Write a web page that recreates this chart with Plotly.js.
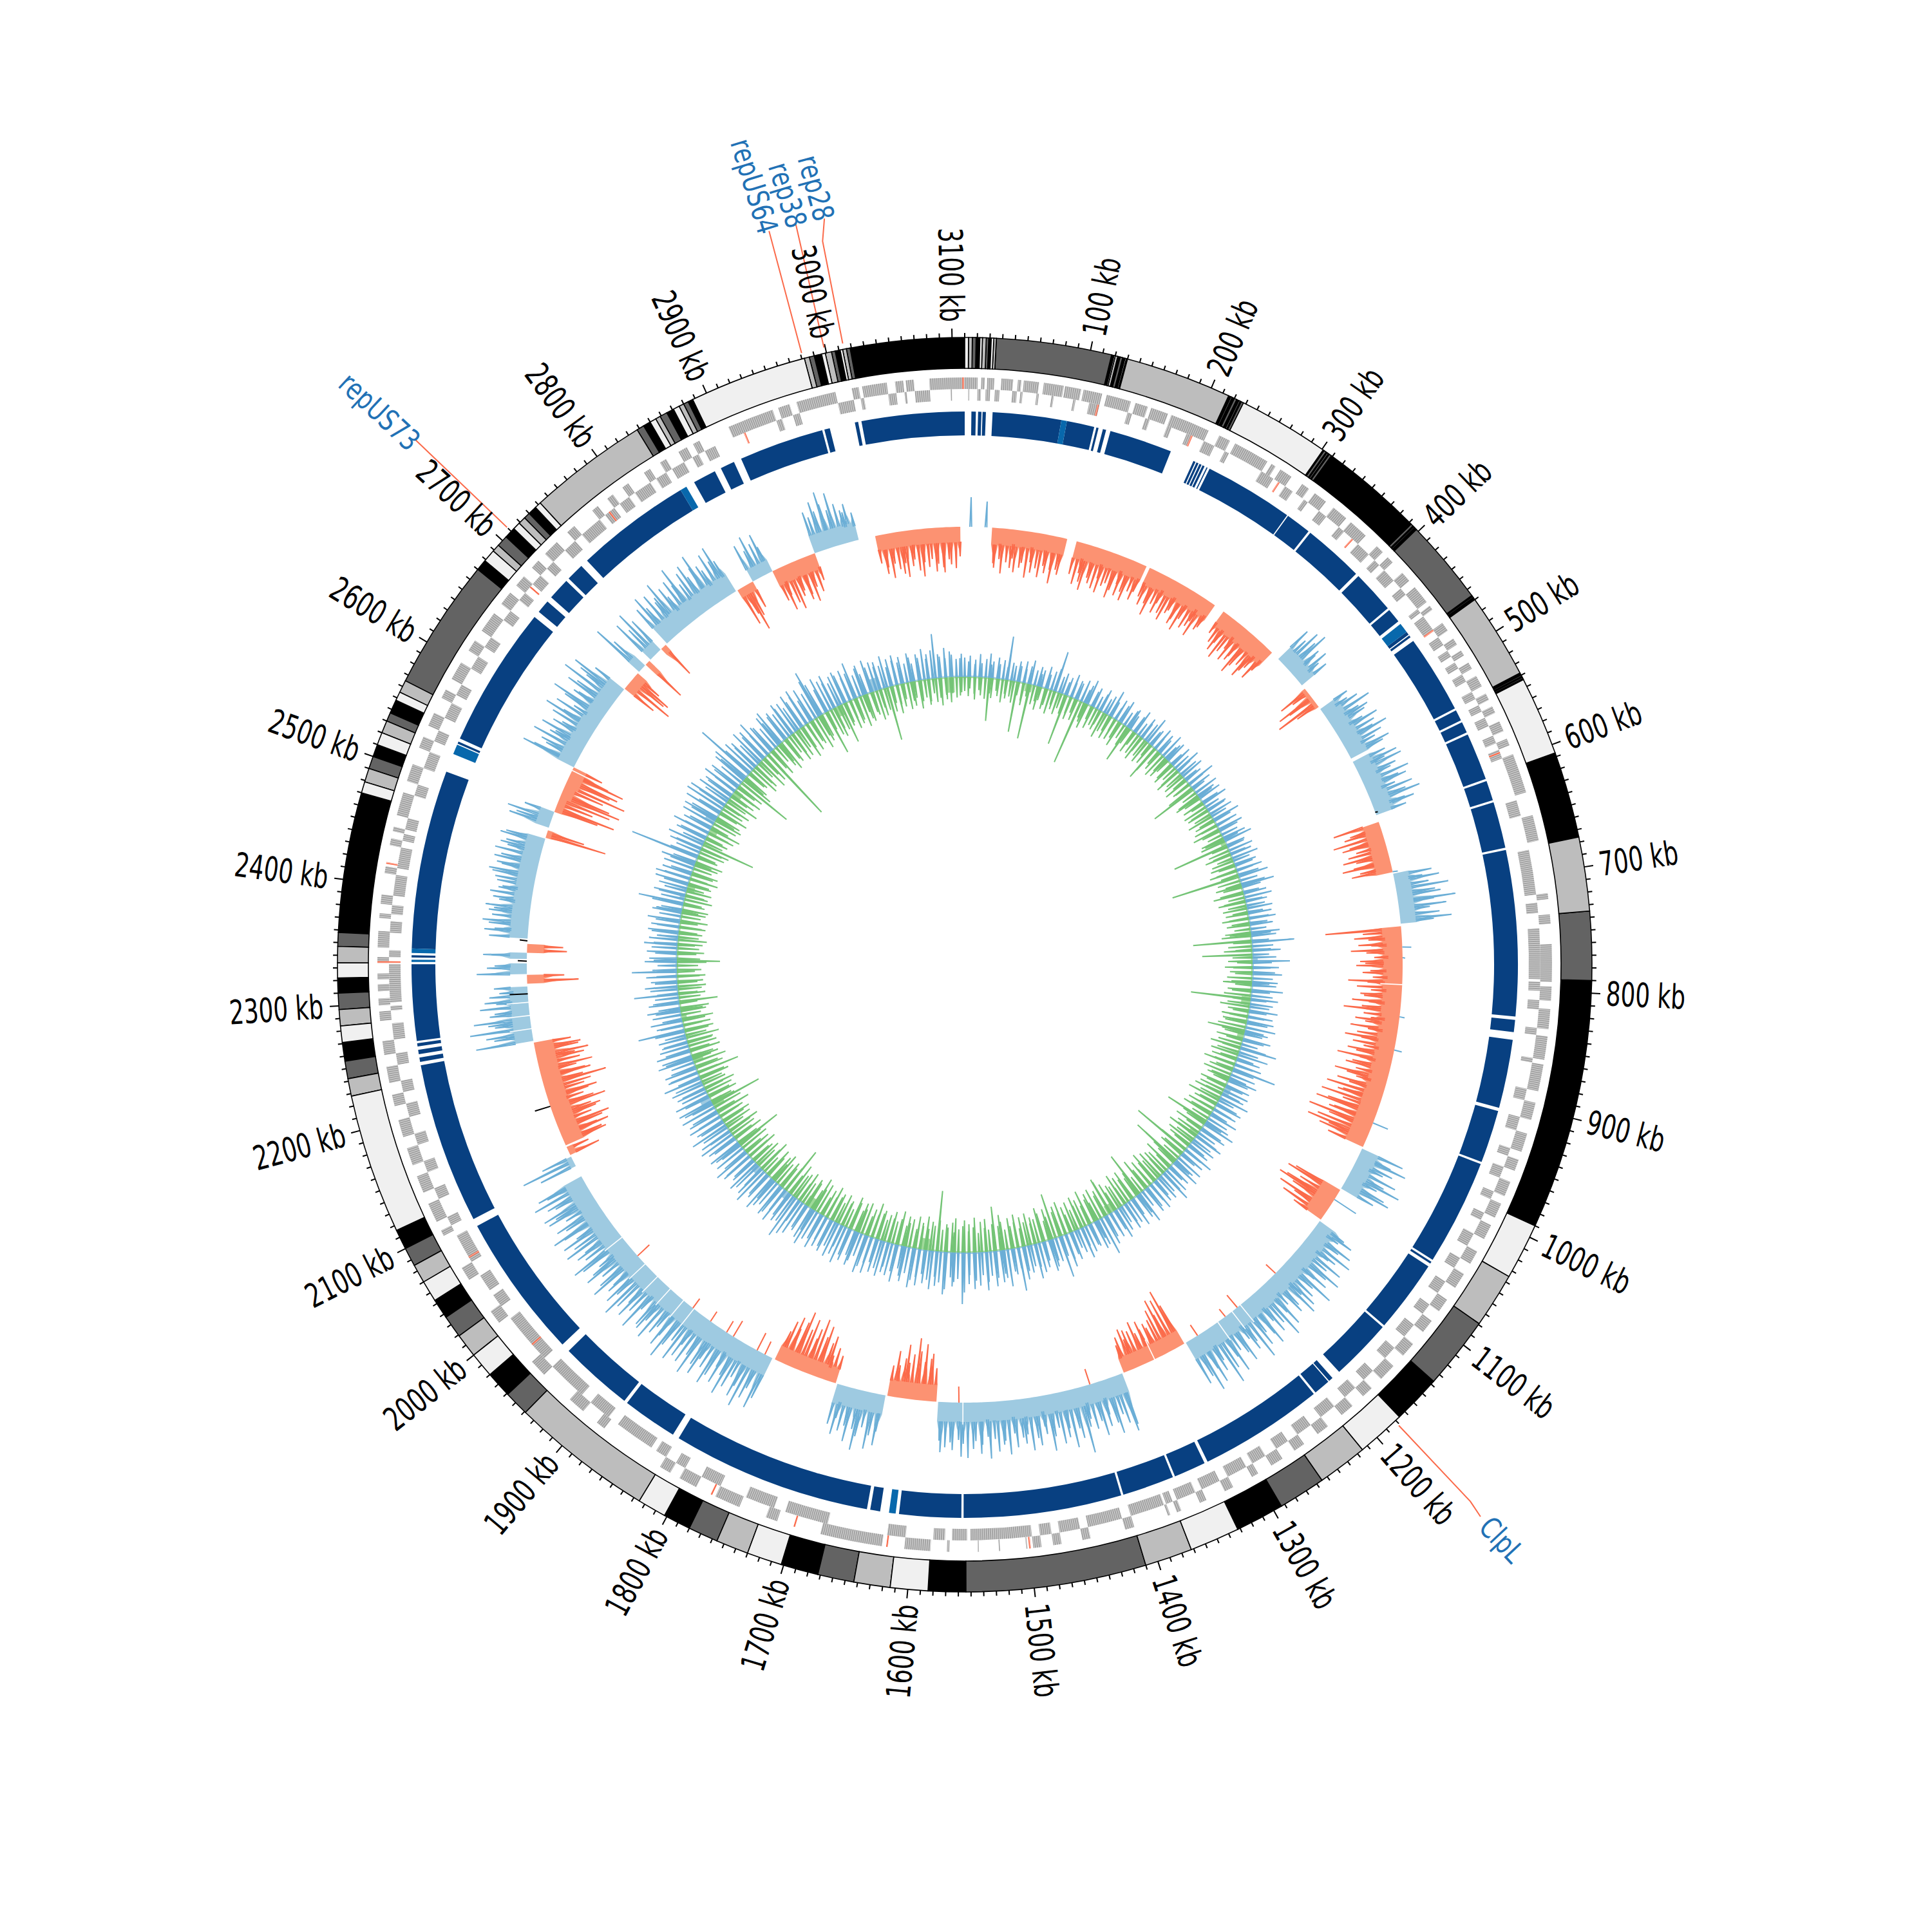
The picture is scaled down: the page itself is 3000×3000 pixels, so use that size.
<!DOCTYPE html>
<html><head><meta charset="utf-8">
<script src="https://cdn.plot.ly/plotly-3.0.1.min.js"></script>
<style>html,body{margin:0;padding:0;background:#fff}</style></head>
<body><div id="chart" style="width:3000px;height:3000px"></div>
<script>
const genomeKb = 3110;
// karyotype band: start of each band (kb) and its shade
const shades = ['#000000','#636363','#bdbdbd','#f0f0f0'];
const bandStart = [0,3,6,9,12,14,17,19,21,23,25,117,119,120,122,124,126,128,129,130,215,217,218,220,222,224,225,226,228,301,302,304,305,306,307,309,392,394,395,396,398,466,467,468,470,538,540,541,542,543,544,607,676,735,790,990,1035,1079,1137,1176,1215,1255,1293,1332,1372,1410,1554,1584,1614,1643,1672,1702,1730,1756,1780,1802,1825,1939,1959,1980,2000,2019,2037,2053,2070,2085,2100,2116,2228,2242,2256,2271,2284,2297,2310,2322,2334,2347,2358,2470,2479,2490,2500,2510,2520,2530,2537,2548,2555,2565,2670,2679,2689,2695,2704,2713,2719,2725,2730,2737,2742,2838,2844,2850,2855,2859,2865,2871,2876,2880,2884,2888,2982,2986,2990,2996,2999,3004,3007,3011,3013,3016,3019];
const bandShade = [3,2,1,0,3,2,1,0,3,2,1,0,3,2,0,1,0,3,0,2,0,3,0,1,0,3,0,1,3,0,1,0,3,0,1,0,1,0,1,0,1,0,1,0,2,0,1,0,1,0,3,0,2,1,0,3,2,1,0,3,2,1,0,3,2,1,0,3,2,1,0,3,2,1,0,3,2,1,0,3,2,1,0,3,2,1,0,3,2,1,0,3,2,1,0,3,2,1,0,3,2,1,0,3,2,1,0,3,2,1,0,3,2,1,0,3,2,1,0,3,2,1,0,3,2,1,0,3,2,1,0,3,2,1,0,3,2,1,0,3,2,1,0];
// gene lanes as start,end pairs (kb)
const laneOuter = [3080,3110,0,11,14,17,19,25,31,41,45,48,50,63,67,84,85,99,101,117,121,142,146,157,160,175,178,212,222,232,237,268,272,276,281,292,303,310,316,328,336,350,355,372,385,392,398,404,416,425,432,448,452,456,470,478,486,492,498,503,510,516,523,533,540,546,552,558,566,575,582,588,596,630,650,672,717,722,735,743,760,792,796,808,815,832,838,858,862,885,895,910,922,938,945,955,965,978,985,998,1005,1018,1030,1042,1052,1066,1078,1090,1100,1112,1125,1138,1150,1165,1176,1186,1198,1210,1225,1236,1250,1260,1272,1283,1296,1302,1320,1328,1345,1351,1368,1372,1378,1380,1410,1418,1448,1455,1473,1480,1490,1497,1502,1503,1525,1526,1543,1544,1568,1570,1584,1606,1625,1678,1716,1726,1750,1772,1790,1806,1815,1825,1882,1890,1905,1920,1950,1965,2008,2020,2052,2064,2095,2100,2108,2125,2135,2150,2160,2175,2185,2200,2212,2222,2232,2246,2256,2268,2285,2293,2298,2304,2310,2316,2320,2325,2334,2339,2347,2361,2372,2376,2384,2392,2410,2416,2434,2440,2446,2450,2460,2480,2490,2505,2520,2530,2540,2552,2566,2574,2584,2600,2612,2622,2632,2650,2660,2672,2680,2690,2700,2708,2716,2730,2742,2750,2770,2776,2786,2792,2802,2808,2824,2830,2840,2846,2858,2866,2872,2878,2905,2945,2950,2960,2966,3000,3014,3020,3023,3044,3051,3058,3060,3067];
const laneInner = [3098,3099,3,4,11,14,18,22,26,30,41,45,48,50,62,64,75,77,94,96,108,117,142,146,158,162,178,182,196,200,212,222,232,236,268,280,292,300,312,316,328,336,350,356,372,385,392,398,404,416,425,432,448,452,456,470,478,486,492,498,504,510,516,523,533,540,546,552,558,566,575,582,588,596,634,648,678,717,724,733,746,790,792,800,808,816,832,838,858,862,885,895,910,922,938,945,955,965,978,985,998,1005,1018,1030,1042,1052,1066,1078,1090,1100,1112,1125,1138,1150,1165,1176,1186,1198,1210,1225,1236,1250,1260,1272,1283,1296,1302,1320,1328,1345,1351,1368,1372,1378,1380,1410,1418,1448,1455,1473,1480,1490,1497,1550,1553,1566,1572,1582,1606,1622,1674,1712,1722,1748,1772,1790,1806,1815,1825,1835,1840,1875,1885,1905,1915,1950,1960,2005,2018,2030,2035,2050,2064,2090,2100,2108,2125,2135,2150,2160,2175,2185,2200,2212,2222,2232,2246,2256,2268,2282,2293,2297,2300,2333,2339,2345,2360,2370,2376,2384,2392,2410,2416,2434,2440,2446,2450,2460,2480,2490,2505,2520,2530,2540,2552,2566,2574,2584,2600,2612,2622,2632,2650,2660,2672,2680,2690,2700,2708,2716,2730,2742,2750,2770,2776,2786,2792,2802,2808,2824,2830,2840,2846,2858,2866,2872,2878,2888,2945,2950,2960,2966,3000,3014,3020,3023,3044,3051,3058,3060,3067,3080];
const redGeneOuter = [3108,1499,1620,1700,1775,2334,2418];
const redGeneInner = [115,200,285,365,470,590,1975,2068,2334,2686,2780,2915];
// blue ring as start,end pairs (kb)
const ringDark = [25,87,92,117,119,121,125,128,132,189,211,213,214,216,217,219,220,222,224,225,227,308,309,332,334,389,392,431,433,446,458,461,462,464,468,539,541,551,553,563,565,608,610,628,630,672,674,824,827,838,845,907,910,958,960,1056,1058,1060,1063,1129,1131,1187,1195,1199,1200,1215,1217,1330,1333,1362,1364,1411,1413,1556,1558,1614,1631,1640,1643,1824,1830,1880,1883,1950,1958,2089,2096,2242,2245,2249,2252,2256,2259,2262,2264,2333,2339,2341,2347,2509,2536,2538,2541,2669,2675,2687,2692,2712,2715,2731,2738,2843,2857,2878,2884,2897,2904,2981,2983,2988,3011,3014,3017,3110,6,10,12,15,16,19];
const ringLight = [87,92,449,458,1617,1623,2335,2337,2343,2347,2526,2535,2843,2849];
// outer histogram track: one entry per stretch
const histStart = [0,31,128,216,313,395,440,469,539,613,674,734,992,1045,1087,1295,1373,1587,1645,1703,1780,2096,2110,2122,2246,2311,2322,2339,2346,2362,2478,2490,2509,2525,2540,2564,2670,2695,2706,2714,2731,2740,2840,2860,2885,2937,3008];
const histEnd = [27,117,212,301,385,435,466,535,605,672,731,990,1043,1085,1293,1371,1585,1643,1701,1777,2083,2108,2120,2244,2308,2321,2334,2346,2356,2477,2487,2509,2525,2540,2564,2669,2693,2705,2712,2730,2738,2838,2860,2885,2937,2989,3105];
const histSide = ['b','r','r','r','r','b','r','b','b','r','b','r','b','r','b','r','b','r','b','r','b','b','r','r','b','r','b','b','r','b','r','b','r','r','r','b','r','b','r','b','r','b','r','b','r','b','r'];
const histLevel = [0,26,26,28,28,26,6,30,30,26,24,30,28,30,30,24,30,26,30,24,30,8,10,30,28,26,26,26,26,28,8,22,12,18,22,28,18,22,24,18,12,32,14,20,26,28,24];
const histPeaks = [
[0,46,0,0,0,0,40],
[55,62,48,70,52,60,45,66,58,50,72,47,63,55,68,49,60,53,74,51,58],
[52,66,47,60,72,50,58,64,46,68,55,49,70,57,44,62,53,66,48,59,45],
[48,60,54,72,50,62,45,58,67,52,46,64,56,70,49,60,53,43,66,50,44],
[40,52,62,48,70,55,45,64,58,50,74,60,52,68,56,47,60,42],
[62,50,70,58,76,54,46,60,42,50],
[50,30,62,44,70,38],
[50,44,60,76,52,66,58,48,72,62,55,78,64,50,70,58],
[54,70,48,74,60,50,76,56,68,46,72,58,80,52,66,50],
[74,50,60,80,56,68,48,62,72,52,58,76,50,64],
[60,44,70,52,82,60,68,90,56,74,48,62,80,52],
[118,60,74,52,68,48,80,56,44,66,58,72,50,62,46,84,54,70,48,64,58,76,50,60,88,56,44,68,52,74,46,62,80,54,66,48,72,58,86,50,60,70,52,84,64,48,76,56,90,62,70,94,58,80,98,66,74,104,70,86,100,64,78,60],
[70,54,80,62,48,74,58,86,50,68,78,56],
[78,90,64,84,96,70,88,60,76,52],
[50,66,44,74,54,82,60,48,78,56,86,64,72,50,90,58,66,76,52,84,60,70,48,80,56,92,64,74,52,86,68,58,78,94,60,72,50,82,66,56,88,62,76,98,54,70,84,60,92,66,74],
[70,96,84,62,88,74,60,50,58,52,66,50,70,58,62,48,66,56,44],
[82,92,76,60,88,70,54,72,84,60,70,52,64,104,78,62,90,58,72,80,54,66,88,60,48,76,64,82,56,70,60,74,52,84,62,68,78,58,88,54,66,80,60,72,86,64,84,58,74,62,70,78,60],
[52,74,66,88,60,76,96,70,56,84,62,50,72,48],
[58,80,66,88,56,72,94,62,84,60,70,52,78,64],
[44,54,40,70,58,82,64,90,72,56,84,66,92,74,60,78,68,50],
[70,88,60,78,96,66,84,56,76,92,62,80,54,74,90,68,58,86,72,94,64,82,56,78,90,60,74,98,66,84,58,72,88,62,80,76,54,92,68,84,60,76,96,64,82,70,58,90,74,62,86,72,56,80,94,66,76,60,88,70,84,58,74,92,64,78,56,82,68,86,60,72,90,64,78],
[60,86,50],
[50,36],
[70,64,78,60,72,84,58,68,76,62,88,70,56,66,80,62,74,100,64,78,70,58,84,66,74,60,82,68,72,58],
[90,60,72,96,56,66,88,62,54,76,50,68,60,44,52],
[80,58],
[78,62,50],
[68],
[62,56],
[60,68,52,62,72,58,64,56,70,50,60,66,54,48,58,62,68,74,56,64,70,60,72,54,66,58,70,62],
[96,60],
[66,56,72,48],
[70,96,58,84],
[98,80,66],
[100,72,84,90,64,50],
[90,72,56,66,84,60,52,78,64,50,72,88,58,76,48,70,92,62,54,80,66,96,60,74,88,56],
[56,80,64,70,48],
[90,60],
[72],
[74,56,82,62],
[58],
[70,84,62,78,60,66,88,72,54,76,64,92,58,74,82,60,70,90,66,56,78,62,84,58],
[62,48,76,54,44],
[62,48,70,54,66,44],
[52,70,46,62,74,56,48,66,58,72,50,60,44],
[66,56,78,62,90,70,58,84,64,52,48,60,44],
[44,62,52,70,48,58,66,50,72,56,46,64,74,52,60,48,68,56,62,70,50,58,64,46]];
// thin white seams across the histogram track (kb)
const histSeamKb = [800,1218,1230,1250,1333,1557,1885,1900,1920,1940,1960,2000,2260,2275,2290,2560];
// short spikes of the other colour over the histogram (kb, length)
const blueAccentKb = [672,758,770,837,875,961,1058];
const blueAccentLen = [8,14,4,8,12,25,40];
const redAccentKb = [1165,1223,1240,1278,1412,1562,1790,1800,1831,1840,1862,1887,1973];
const redAccentLen = [20,25,15,20,25,25,22,30,28,20,18,18,25];
const blackAccentKb = [2360,2337,2300,2170,602];
const blackAccentLen = [12,14,28,25,4];
// small positional offsets of spikes within their bin (kb)
const binOffset = [0,1.5,-1,2,-2,.5,-1.5,1,2.2,-.5,-2.2,1.2,-1.2,.8,1.8,-1.8,.3];
// inner track, one value every 5 kb
const innerBlue = [
30,24,33,20,27,36,22,29,38,21,26,33,23,30,20,68,28,24,32,25,
34,22,28,38,24,31,20,27,35,23,30,36,64,26,33,21,29,37,24,30,
27,35,22,30,40,25,32,21,28,36,24,31,43,26,20,34,29,38,23,30,
33,24,28,39,22,35,27,31,44,25,29,37,21,33,26,40,24,30,35,22,
36,28,42,25,31,38,23,29,46,27,34,22,39,30,25,37,28,41,24,33,
30,38,26,44,29,35,23,40,31,27,37,24,45,30,28,39,25,34,42,27,
35,29,41,26,33,47,28,38,52,30,25,36,43,27,34,29,40,24,37,31,
42,28,36,25,45,31,39,27,66,33,29,44,26,37,58,30,41,28,35,46,
32,40,27,38,49,29,34,43,25,36,31,45,28,39,26,42,33,47,30,37,
29,44,34,26,41,58,31,48,27,38,43,30,69,35,40,28,46,33,39,29,
41,30,37,48,26,35,43,31,39,28,46,34,40,29,52,36,44,31,38,47,
33,42,29,37,50,31,40,27,45,35,30,48,38,28,43,36,53,32,41,30,
39,46,31,37,44,28,52,35,41,30,47,38,33,44,29,40,49,34,42,31,
37,48,61,42,30,46,38,35,43,31,50,38,29,45,36,41,53,33,66,38,
35,44,50,31,41,47,37,55,34,43,39,52,68,33,41,36,58,44,37,50,
42,55,38,47,60,36,52,44,57,35,49,62,80,41,46,53,39,58,66,48,
54,40,60,46,52,38,57,44,50,62,41,55,47,36,59,43,51,39,48,56,
45,53,38,58,42,50,61,37,47,55,40,52,44,60,36,49,56,41,53,46,
50,39,57,43,48,60,37,52,45,41,56,38,62,71,47,51,42,58,40,49,
55,43,50,38,59,46,41,61,52,37,48,56,44,39,53,47,60,42,51,36,
46,54,40,49,58,37,52,44,61,41,47,55,38,50,43,57,36,48,56,41,
56,42,47,38,52,44,60,36,49,45,51,40,37,56,43,48,54,39,46,41,
38,44,33,47,73,36,42,50,31,45,39,52,34,48,41,37,69,33,43,51,
35,41,48,32,70,38,30,50,36,43,34,47,40,52,37,45,33,42,48,35,
44,38,51,34,46,40,33,49,71,37,42,50,35,45,39,53,55,41,47,34,
48,40,55,37,109,46,39,52,42,58,36,50,44,60,41,47,38,54,43,56,
45,60,39,65,47,63,41,55,44,50,38,58,46,53,40,57,48,62,97,51,
58,44,52,40,60,47,55,41,63,49,46,38,54,42,59,45,50,43,56,48,
52,41,58,46,50,60,38,55,44,62,76,53,40,57,49,43,55,39,48,52,
46,38,50,42,58,35,44,48,33,52,40,46,37,44,36,50,31,43,39,47,
34,42,30,45,38,28,41,35,48,32,39,44,69,37,33,46,30,40,35,28,
29,36];
const innerGreen = [
22,30,18,26,35,20,28,33,67,24,31,19,27,36,22,29,25,34,79,21,
28,35,20,86,30,24,37,21,33,26,38,22,29,35,24,31,80,27,36,23,
34,103,25,31,40,22,36,28,33,24,42,30,26,38,21,35,29,41,24,33,
59,27,37,23,34,41,26,30,38,22,35,58,44,25,33,40,27,36,24,31,
38,26,34,43,29,36,24,40,31,27,45,75,25,37,42,28,35,22,39,30,
36,28,41,25,33,38,27,44,30,24,37,32,40,89,26,34,29,42,25,35,
39,27,33,44,28,108,36,25,41,30,37,48,26,34,43,29,38,24,35,31,
42,28,36,25,40,33,46,91,29,37,26,44,78,31,38,24,43,30,35,27,
39,32,45,26,37,30,42,93,28,35,46,33,25,41,29,38,34,44,59,36,
31,42,26,37,48,29,35,44,27,40,33,50,28,38,45,30,36,25,43,32,
40,28,46,34,52,30,38,26,44,36,48,29,70,41,33,47,27,39,35,50,
32,44,38,28,48,95,36,41,30,81,45,33,50,28,39,43,31,47,36,52,
38,30,45,35,53,28,72,41,33,49,37,44,29,52,36,40,31,47,55,60,
43,36,50,30,46,38,55,32,44,37,51,33,47,29,42,53,35,48,40,71,
36,49,31,45,54,38,42,33,50,37,46,29,52,40,35,48,31,44,55,38,
69,42,34,51,37,47,30,54,39,44,33,50,41,36,53,31,46,38,43,34,
48,94,39,45,33,52,36,41,50,30,44,37,47,32,53,40,35,49,38,42,
33,46,41,55,36,43,31,50,38,47,34,44,52,30,41,37,48,33,45,39,
52,35,43,30,48,37,54,33,41,46,36,50,31,44,39,53,34,75,42,37,
45,38,50,32,43,36,48,30,54,41,35,46,39,33,51,37,44,31,47,40,
74,36,49,33,42,38,52,30,45,37,48,34,41,55,32,46,81,39,35,47,
36,43,31,50,38,34,47,41,67,33,44,37,52,30,42,35,48,32,45,39,
41,52,33,38,46,30,43,36,49,31,40,35,45,28,60,34,42,30,37,44,
31,40,35,44,28,38,33,46,67,36,30,42,34,27,39,45,32,37,29,41,
35,28,43,31,38,26,41,34,29,44,36,30,40,27,37,33,45,28,35,42,
30,38,27,44,33,29,41,35,46,85,31,37,28,43,34,50,29,39,45,32,
40,31,47,36,28,44,34,52,30,41,37,48,33,45,90,53,38,42,31,35,
49,36,44,30,52,33,46,122,38,35,47,29,41,34,50,37,43,31,48,36,
45,33,53,38,30,47,36,41,52,34,44,37,70,31,43,48,35,40,63,38,
33,46,30,41,36,49,28,39,44,32,37,47,29,42,35,84,40,27,45,31,
36,25,42,30,38,26,44,33,28,40,35,23,37,31,43,27,34,39,25,32,
29,24];
// thicker light patches of the inner track (centre kb, width kb, height)
const blueBlobKb = [2957,2592,2090,1950,1880,1000,770,2450];
const blueBlobW = [16,14,14,12,12,10,10,10];
const blueBlobH = [20,16,16,12,12,10,8,8];
const greenBlobKb = [3084,112,2885,2649,2575,2468,2168,2082,1840,1624,1290,1090,900,840,560,2240];
const greenBlobW = [16,12,14,14,12,12,14,16,14,14,14,12,10,14,10,10];
const greenBlobH = [24,12,16,14,12,12,16,18,16,18,14,14,10,14,8,8];
// tick labels
const tickLabels = [100,200,300,400,500,600,700,800,900,1000,1100,1200,1300,1400,1500,1600,1700,1800,1900,2000,2100,2200,2300,2400,2500,2600,2700,2800,2900,3000,3100];
// named features
const featNames = ['rep28','rep38','repUS64','repUS73','ClpL'];
const featKb = [3018,2999,2981,2710,1183];
const featLeaderKb = [3014,2999,2981,2710,1181];
const featEndR = [1179,1179,1179,1180,1173];
const featLabelX = [1267,1223,1171,589,2332];
const featLabelY = [292,303,289,639,2391];
const featAngle = [75,73,73,43,47];
// track radii and centre
const CX = 1498;
const R = {bandIn:926,bandOut:974,minor:981,major:988,laneA0:894,laneA1:912,laneB0:876,laneB1:894,ring0:822,ring1:859,hist:680,inner:447};

const deg = kb => kb*360/genomeKb;
function bars(starts, ends, r0, r1, color, lw, lc){
  const t=[],w=[],b=[],r=[];
  starts.forEach((s,i)=>{t.push(deg((s+ends[i])/2));w.push(deg(ends[i]-s));b.push(r0);r.push(r1-r0);});
  return {type:'barpolar',theta:t,width:w,base:b,r:r,hoverinfo:'skip',
    marker:{color:color,line:{width:lw||0,color:lc||color}}};
}
const odd = a=>a.filter((_,i)=>i%2==1), even = a=>a.filter((_,i)=>i%2==0);
const line = (t,r,w,c)=>({type:'scatterpolar',mode:'lines',theta:t,r:r,line:{width:w,color:c},hoverinfo:'skip'});
const traces=[];
// band
shades.forEach((c,k)=>{
  const s=[],e=[];
  bandStart.forEach((v,i)=>{ if(bandShade[i]===k){ s.push(v); e.push(i+1<bandStart.length?bandStart[i+1]:genomeKb);} });
  traces.push(bars(s,e,R.bandIn,R.bandOut,c,1.6,'#000'));
});
// ticks
{
  const th=[],r=[];
  for(let kb=0;kb<genomeKb;kb+=10){
    th.push(deg(kb),deg(kb),null);
    r.push(R.bandOut,(kb%100===0&&kb>0)?R.major:R.minor,null);
  }
  traces.push(line(th,r,2,'#000'));
}
// gene lanes
traces.push(bars(even(laneOuter),odd(laneOuter),R.laneA0,R.laneA1,'#a2a2a2'));
traces.push(bars(even(laneInner),odd(laneInner),R.laneB0,R.laneB1,'#a2a2a2'));
{ // gene separators
  const th=[],r=[];
  for(let kb=0;kb<genomeKb;kb+=1.7){ th.push(deg(kb),deg(kb),null); r.push(R.laneB0-1,R.laneA1+1,null); }
  traces.push(line(th,r,.6,'#fff'));
}
traces.push(bars(redGeneOuter,redGeneOuter.map(k=>k+1.5),R.laneA0,R.laneA1,'#fb6a4a'));
traces.push(bars(redGeneInner,redGeneInner.map(k=>k+1.5),R.laneB0,R.laneB1,'#fb6a4a'));
// blue ring
traces.push(bars(even(ringDark),odd(ringDark),R.ring0,R.ring1,'#084081'));
traces.push(bars(even(ringLight),odd(ringLight),R.ring0,R.ring1,'#0868ac'));
// outer histogram
function hist(side,fill,color){
  const sign = side==='b'?1:-1, ft=[],fr=[],lt=[],lr=[];
  histStart.forEach((s,i)=>{
    if(histSide[i]!==side) return;
    const p=histPeaks[i], e=histEnd[i], L=histLevel[i], lev=R.hist+sign*L, st=(e-s)/p.length;
    if(L>0){
      ft.push(deg(s));fr.push(lev);
      p.forEach((v,j)=>{
        ft.push(deg(s+(j+.5)*st),deg(s+(j+1)*st));
        fr.push(R.hist+sign*(L+(v-L)*.45),lev);
      });
      for(let j=p.length;j>=0;j--){ft.push(deg(s+j*st));fr.push(R.hist);}
      ft.push(null);fr.push(null);
    }
    p.forEach((v,j)=>{
      if(!v) return;
      const c=s+(j+.5)*st+binOffset[(i*3+j)%binOffset.length]*.7;
      lt.push(deg(c-1),deg(c),deg(c+1),null);
      lr.push(R.hist+sign*Math.min(L,v*.5),R.hist+sign*v,R.hist+sign*Math.min(L,v*.5),null);
    });
  });
  traces.push({type:'scatterpolar',mode:'lines',theta:ft,r:fr,fill:'toself',fillcolor:fill,line:{width:0,color:fill},hoverinfo:'skip'});
  traces.push(line(lt,lr,2,color));
}
hist('b','#9ecae1','#6baed6');
hist('r','#fc9272','#fb6a4a');
function accents(kb,len,sign,color){
  const t=[],r=[];
  kb.forEach((k,i)=>{t.push(deg(k-.5),deg(k),null);r.push(R.hist,R.hist+sign*len[i],null);});
  traces.push(line(t,r,2,color));
}
{
  const t=[],r=[];
  histSeamKb.forEach(k=>{t.push(deg(k),deg(k),null);r.push(R.hist-34,R.hist+34,null);});
  traces.push(line(t,r,1.6,'#fff'));
}
accents(blueAccentKb,blueAccentLen,1,'#6baed6');
accents(redAccentKb,redAccentLen,-1,'#fb6a4a');
accents(blackAccentKb,blackAccentLen,1,'#000');
// inner track
function blobs(kb,w,h,sign,color){
  const tr=bars(kb.map((k,i)=>k-w[i]/2),kb.map((k,i)=>k+w[i]/2),R.inner,R.inner,color);
  tr.base=h.map(v=>sign>0?R.inner:R.inner-v);
  tr.r=h.slice();
  traces.push(tr);
}
function inner(values,sign,color){
  const t=[],r=[],step=5;
  values.forEach((v,i)=>{
    const c=i*step+binOffset[i%binOffset.length];
    t.push(deg(c-1.2),deg(c),deg(c+1.2),null);
    r.push(R.inner,R.inner+sign*v,R.inner,null);
  });
  traces.push(line(t,r,2,color));
}
traces.push(bars([0],[genomeKb],R.inner,R.inner+2,'#9ecae1'));
blobs(blueBlobKb,blueBlobW,blueBlobH,1,'#9ecae1');
inner(innerBlue,1,'#6baed6');
traces.push(bars([0],[genomeKb],R.inner-2,R.inner,'#a1d99b'));
blobs(greenBlobKb,greenBlobW,greenBlobH,-1,'#a1d99b');
inner(innerGreen,-1,'#74c476');
// feature leaders
{
  const t=[],r=[];
  featNames.forEach((n,i)=>{
    t.push(deg(featLeaderKb[i]),deg(featLeaderKb[i]),deg(featKb[i]),null);
    r.push(983,1145,featEndR[i],null);
  });
  traces.push(line(t,r,2,'#fb6a4a'));
}
const FONT='"DejaVu Sans",sans-serif';
const annotations=[];
tickLabels.forEach(kb=>{
  const th=deg(kb), txt=kb+' kb', rr=998+(txt.length===7?73:61);
  const rad=th*Math.PI/180;
  annotations.push({xref:'paper',yref:'paper',x:(CX+rr*Math.sin(rad))/3000,y:1-(CX-rr*Math.cos(rad))/3000,
    text:txt,showarrow:false,xanchor:'center',yanchor:'middle',textangle:th>180?th-270:th-90,
    font:{family:FONT,size:52,color:'#000'}});
});
featNames.forEach((n,i)=>{
  annotations.push({xref:'paper',yref:'paper',x:featLabelX[i]/3000,y:1-featLabelY[i]/3000,text:n,showarrow:false,
    xanchor:'center',yanchor:'middle',textangle:featAngle[i],font:{family:FONT,size:46,color:'#2171b5'}});
});
Plotly.newPlot('chart',traces,{
  width:3000,height:3000,margin:{l:0,r:0,t:0,b:0},showlegend:false,paper_bgcolor:'#fff',
  polar:{domain:{x:[0,2*CX/3000],y:[1-2*CX/3000,1]},bgcolor:'#fff',barmode:'overlay',
    radialaxis:{visible:false,range:[0,CX]},
    angularaxis:{visible:false,rotation:90,direction:'clockwise',thetaunit:'degrees'}},
  annotations:annotations
},{staticPlot:true,displayModeBar:false}).then(()=>{
  // the reference type is a condensed face: squeeze the glyphs of every label
  document.querySelectorAll('.annotation-text').forEach(el=>{
    const isTick = el.textContent.endsWith(' kb');
    el.setAttribute('textLength', el.getComputedTextLength()*(isTick?0.69:0.77));
    el.setAttribute('lengthAdjust','spacingAndGlyphs');
  });
});
</script></body></html>
